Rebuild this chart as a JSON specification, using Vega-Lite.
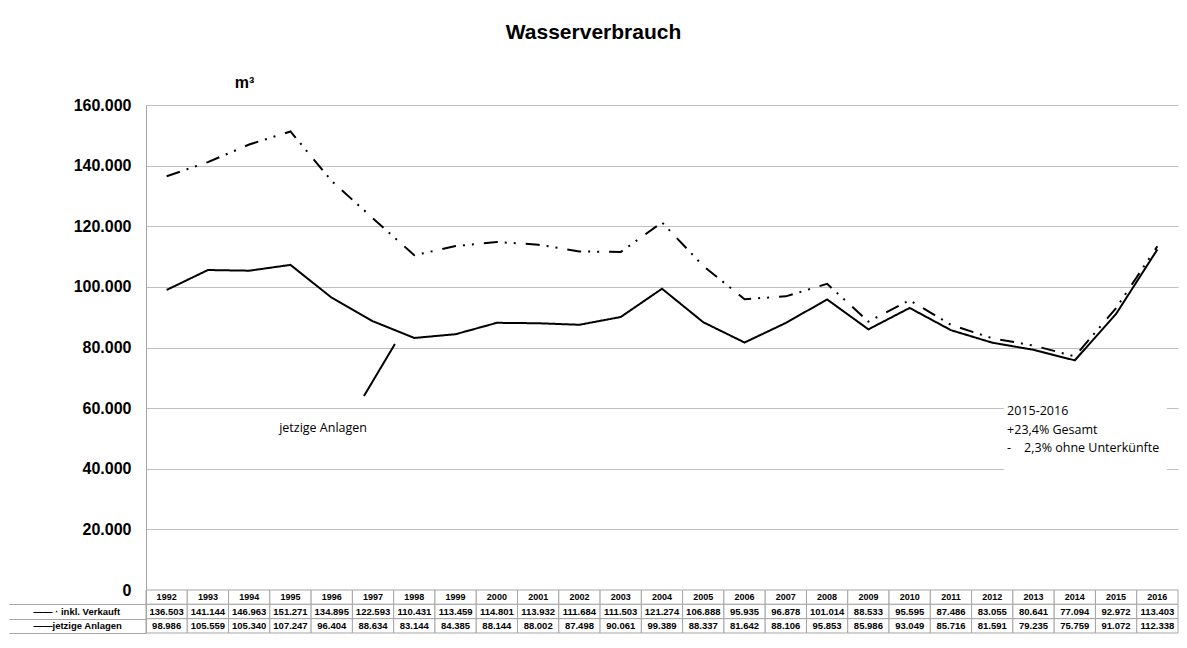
{
  "$schema": "https://vega.github.io/schema/vega-lite/v6.json",
  "padding": {"left": 8, "top": 22, "right": 10, "bottom": 5},
  "bounds": "flush",
  "spacing": 0,
  "title": {"text": "Wasserverbrauch", "font": "Liberation Sans", "fontSize": 21, "fontWeight": "bold", "anchor": "middle", "offset": 31, "color": "black"},
  "config": {
    "locale": {"number": {"decimal": ",", "thousands": ".", "grouping": [3], "currency": ["", " €"]}},
    "view": {"stroke": null},
    "font": "Liberation Sans"
  },
  "datasets": {
    "wasser": [
      {"year": 1992, "inkl": 136503, "jetzige": 98986},
      {"year": 1993, "inkl": 141144, "jetzige": 105559},
      {"year": 1994, "inkl": 146963, "jetzige": 105340},
      {"year": 1995, "inkl": 151271, "jetzige": 107247},
      {"year": 1996, "inkl": 134895, "jetzige": 96404},
      {"year": 1997, "inkl": 122593, "jetzige": 88634},
      {"year": 1998, "inkl": 110431, "jetzige": 83144},
      {"year": 1999, "inkl": 113459, "jetzige": 84385},
      {"year": 2000, "inkl": 114801, "jetzige": 88144},
      {"year": 2001, "inkl": 113932, "jetzige": 88002},
      {"year": 2002, "inkl": 111684, "jetzige": 87498},
      {"year": 2003, "inkl": 111503, "jetzige": 90061},
      {"year": 2004, "inkl": 121274, "jetzige": 99389},
      {"year": 2005, "inkl": 106888, "jetzige": 88337},
      {"year": 2006, "inkl": 95935, "jetzige": 81642},
      {"year": 2007, "inkl": 96878, "jetzige": 88106},
      {"year": 2008, "inkl": 101014, "jetzige": 95853},
      {"year": 2009, "inkl": 88533, "jetzige": 85986},
      {"year": 2010, "inkl": 95595, "jetzige": 93049},
      {"year": 2011, "inkl": 87486, "jetzige": 85716},
      {"year": 2012, "inkl": 83055, "jetzige": 81591},
      {"year": 2013, "inkl": 80641, "jetzige": 79235},
      {"year": 2014, "inkl": 77094, "jetzige": 75759},
      {"year": 2015, "inkl": 92972, "jetzige": 91072},
      {"year": 2016, "inkl": 113403, "jetzige": 112338}
    ]
  },
  "vconcat": [
    {
      "width": 1032,
      "height": 485,
      "layer": [
        {
          "data": {"name": "wasser"},
          "transform": [{"fold": ["inkl", "jetzige"], "as": ["series", "value"]}],
          "mark": {"type": "line", "color": "black", "strokeWidth": 0},
          "encoding": {
            "x": {"field": "year", "type": "quantitative", "scale": {"domain": [1991.5, 2016.5], "nice": false, "zero": false}, "axis": null},
            "y": {"field": "value", "type": "quantitative", "scale": {"domain": [0, 160000], "nice": false},
              "axis": {"values": [0, 20000, 40000, 60000, 80000, 100000, 120000, 140000, 160000], "format": ",d",
                "labelFont": "Liberation Sans", "labelFontSize": 16, "labelFontWeight": "bold", "labelColor": "black", "labelPadding": 15,
                "ticks": false, "domainColor": "#a6a6a6", "gridColor": "#bfbfbf", "grid": true,
                "title": "m³", "titleAngle": 0, "titleX": 98, "titleY": -23, "titleAlign": "center", "titleBaseline": "middle",
                "titleFont": "Liberation Sans", "titleFontSize": 16, "titleFontWeight": "bold", "titleColor": "black"}},
            "detail": {"field": "series", "type": "nominal"}
          }
        },
        {
          "data": {"values": [{}]},
          "mark": {"type": "rect", "fill": "white"},
          "encoding": {
            "x": {"datum": 2012.28, "type": "quantitative", "axis": null},
            "x2": {"datum": 2016.23},
            "y": {"datum": 64500, "type": "quantitative", "axis": {"title": "m³"}},
            "y2": {"datum": 38000}
          }
        },
        {
          "data": {"name": "wasser"},
          "transform": [{"fold": ["inkl", "jetzige"], "as": ["series", "value"]}],
          "mark": {"type": "line", "color": "black", "strokeWidth": 2},
          "encoding": {
            "x": {"field": "year", "type": "quantitative", "axis": null},
            "y": {"field": "value", "type": "quantitative", "axis": {"title": "m³"}},
            "strokeDash": {"field": "series", "type": "nominal", "scale": {"domain": ["inkl", "jetzige"], "range": [[14, 7, 2, 7, 2, 10], [1, 0]]}, "legend": null}
          }
        },
        {
          "data": {"values": [{}]},
          "mark": {"type": "rule", "color": "black", "strokeWidth": 2},
          "encoding": {
            "x": {"datum": 1996.78, "type": "quantitative", "axis": null},
            "x2": {"datum": 1997.53},
            "y": {"datum": 64000, "type": "quantitative", "axis": {"title": "m³"}},
            "y2": {"datum": 81150}
          }
        },
        {
          "data": {"values": [{}]},
          "mark": {"type": "text", "text": "jetzige Anlagen", "font": "Open Sans", "fontSize": 12.5, "color": "black", "align": "center", "baseline": "middle"},
          "encoding": {
            "x": {"datum": 1995.79, "type": "quantitative", "axis": null},
            "y": {"datum": 53440, "type": "quantitative", "axis": {"title": "m³"}}
          }
        },
        {
          "data": {"values": [{}]},
          "mark": {"type": "text", "text": ["2015-2016", "+23,4% Gesamt", "-\u00a0\u00a0\u00a0\u00a02,3% ohne Unterkünfte"], "lineHeight": 18.5, "font": "Open Sans", "fontSize": 12.5, "color": "black", "align": "left", "baseline": "alphabetic"},
          "encoding": {
            "x": {"datum": 2012.36, "type": "quantitative", "axis": null},
            "y": {"datum": 57730, "type": "quantitative", "axis": {"title": "m³"}}
          }
        }
      ]
    },
    {
      "width": 1032,
      "height": 43,
      "data": {"name": "wasser"},
      "transform": [{"fold": ["year", "inkl", "jetzige"], "as": ["series", "value"]}],
      "layer": [
        {
          "mark": {"type": "rect", "fill": "white", "stroke": "#a6a6a6", "strokeWidth": 1},
          "encoding": {
            "x": {"field": "year", "type": "ordinal", "scale": {"paddingInner": 0, "paddingOuter": 0}, "axis": null},
            "y": {"field": "series", "type": "nominal", "scale": {"domain": ["year", "inkl", "jetzige"], "paddingInner": 0, "paddingOuter": 0},
              "axis": {"title": null, "grid": false, "ticks": true, "tickBand": "extent", "tickSize": 137,
                "values": ["inkl", "jetzige"],
                "tickColor": "#a6a6a6",
                "domainColor": "#a6a6a6",
                "labelExpr": "datum.value === 'inkl' ? '—— · inkl. Verkauft' : datum.value === 'jetzige' ? '——jetzige Anlagen' : ''",
                "labelAlign": "left", "labelBaseline": "middle", "labelPadding": -24,
                "labelFont": "Liberation Sans", "labelFontSize": 9.5, "labelFontWeight": "bold", "labelColor": "black"}}
          }
        },
        {
          "transform": [{"filter": "datum.series !== 'year'"}],
          "mark": {"type": "text", "font": "Liberation Sans", "fontSize": 9.5, "fontWeight": "bold", "color": "black", "baseline": "middle"},
          "encoding": {
            "x": {"field": "year", "type": "ordinal", "axis": null},
            "y": {"field": "series", "type": "nominal", "axis": {"title": null}},
            "text": {"field": "value", "type": "quantitative", "format": ",d"}
          }
        },
        {
          "transform": [{"filter": "datum.series === 'year'"}],
          "mark": {"type": "text", "font": "Liberation Sans", "fontSize": 9, "fontWeight": "bold", "color": "black", "baseline": "middle"},
          "encoding": {
            "x": {"field": "year", "type": "ordinal", "axis": null},
            "y": {"field": "series", "type": "nominal", "axis": {"title": null}},
            "text": {"field": "year", "type": "nominal"}
          }
        }
      ]
    }
  ]
}
